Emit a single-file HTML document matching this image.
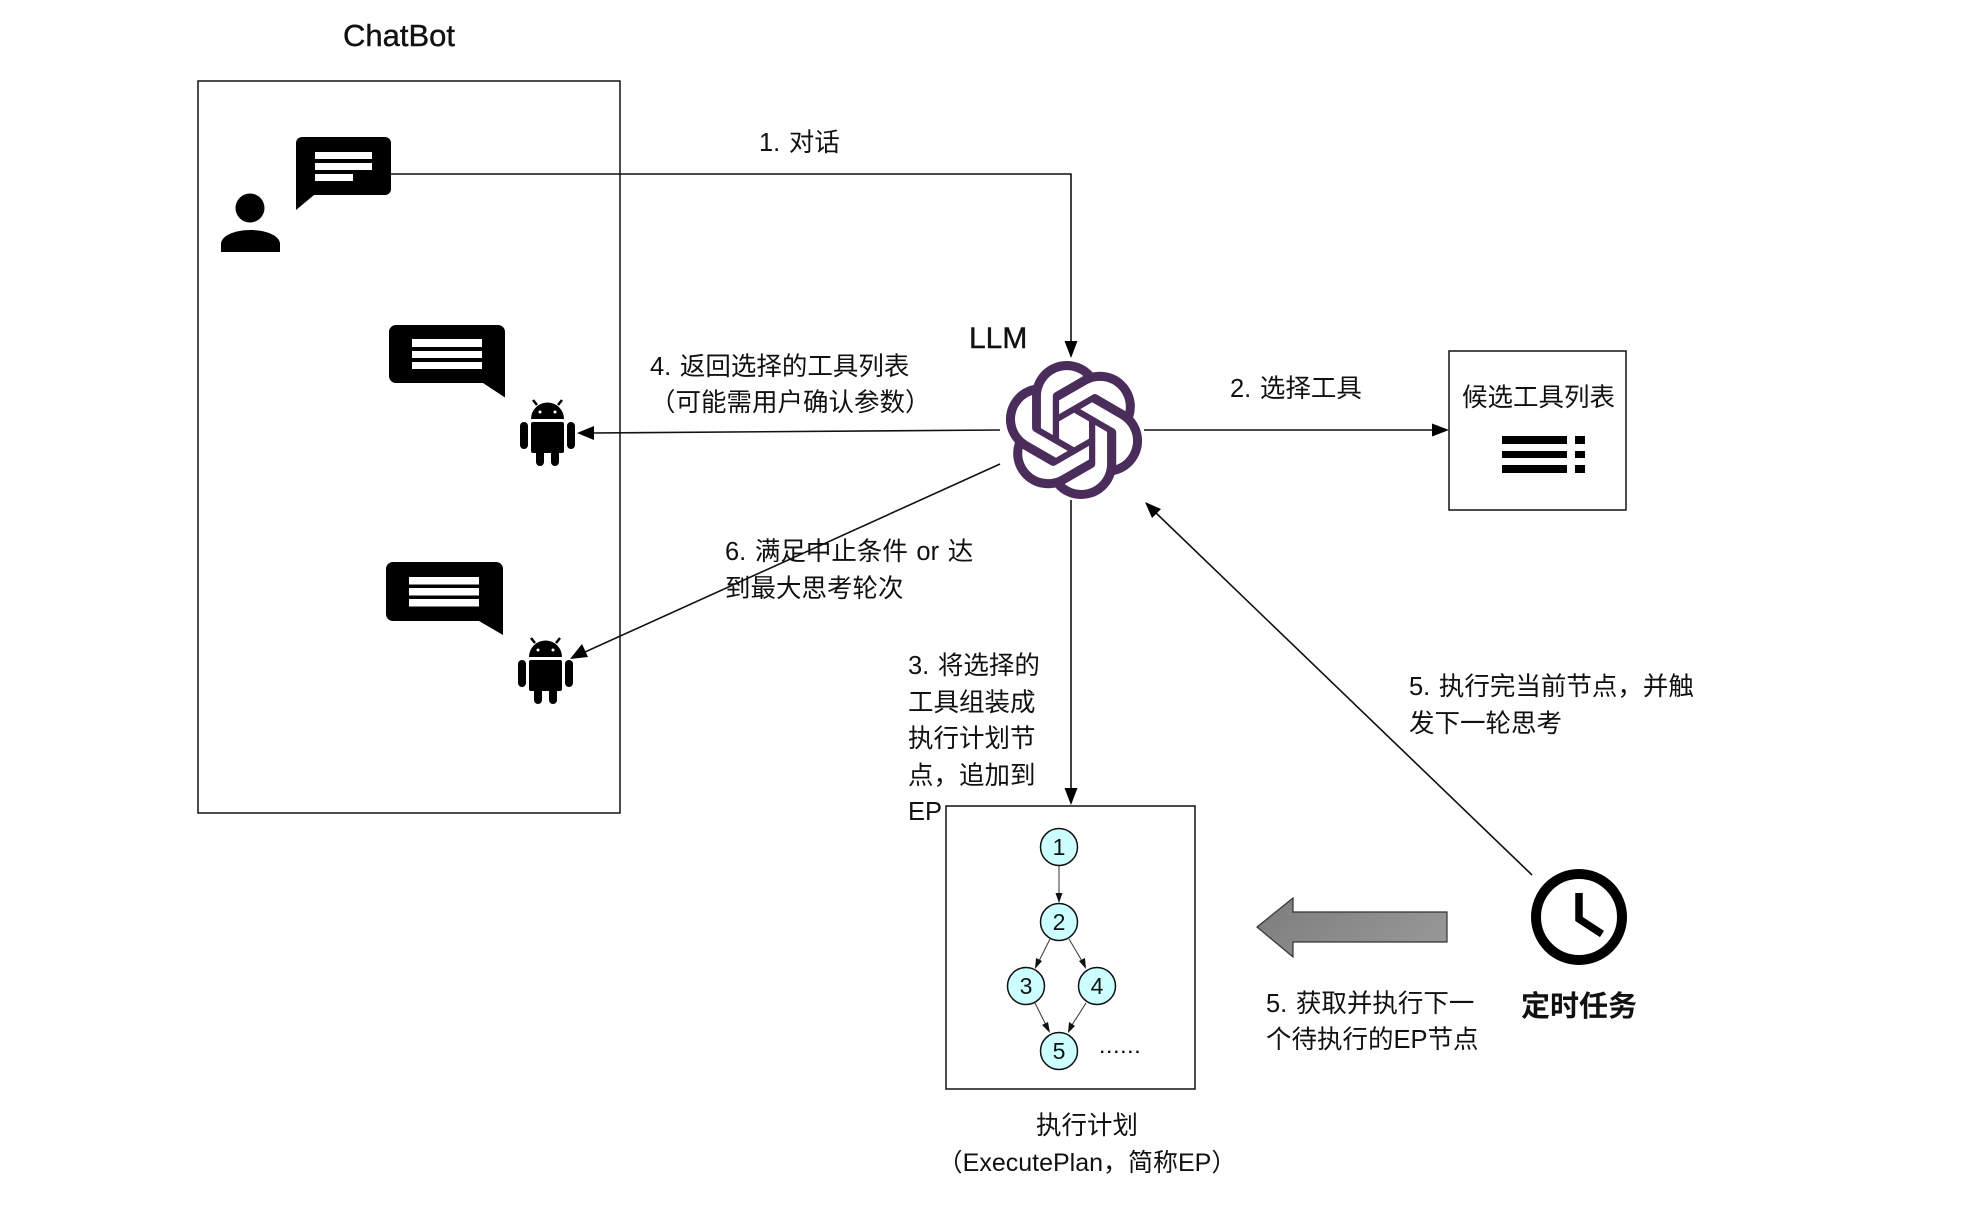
<!DOCTYPE html>
<html><head><meta charset="utf-8"><style>
html,body{margin:0;padding:0;background:#fff}
svg{display:block}
text{font-family:"Liberation Sans","Noto Sans CJK SC",sans-serif;font-size:25.500px;word-spacing:1.500px;fill:#111}
</style></head><body>
<svg width="1976" height="1206" viewBox="0 0 1976 1206" xmlns="http://www.w3.org/2000/svg">
<defs>
<linearGradient id="g" x1="0" y1="0" x2="1" y2="0.4"><stop offset="0" stop-color="#7c7c7c"/><stop offset="1" stop-color="#959595"/></linearGradient>
<g id="android" fill="#000">
<path d="M531 419a16.500 16.500 0 0 1 33 0z"/>
<path d="M537 405l-4-5M558 405l4-5" stroke="#000" stroke-width="2.500"/>
<rect x="531" y="422" width="33" height="31" rx="2"/>
<rect x="520" y="422" width="8" height="27" rx="4"/>
<rect x="567" y="422" width="8" height="27" rx="4"/>
<rect x="536" y="445" width="8" height="21" rx="4"/>
<rect x="551" y="445" width="8" height="21" rx="4"/>
<circle cx="540" cy="412" r="1.500" fill="#fff"/><circle cx="555" cy="412" r="1.500" fill="#fff"/>
</g>
</defs>
<rect width="1976" height="1206" fill="#fff"/>

<text x="343" y="46" style="font-size:31px;stroke:#111;stroke-width:.4px">ChatBot</text>
<rect x="198" y="81" width="422" height="732" fill="none" stroke="#111" stroke-width="1.500"/>

<!-- user -->
<circle cx="250" cy="208" r="14.500"/>
<path d="M221 252v-8c0-8 13-14 29.500-14s29.500 6 29.500 14v8z"/>
<path d="M302 137h83a6 6 0 0 1 6 6v46a6 6 0 0 1-6 6h-71l-18 15v-67a6 6 0 0 1 6-6z"/>
<g fill="#fff"><rect x="315" y="152" width="57" height="7"/><rect x="315" y="163" width="57" height="7"/><rect x="315" y="174" width="38" height="7"/></g>

<!-- bot bubbles -->
<path d="M396 325h102a7 7 0 0 1 7 7v65.500l-22-14.500h-87a7 7 0 0 1-7-7v-44a7 7 0 0 1 7-7z"/>
<g fill="#fff"><rect x="412" y="339" width="70" height="8"/><rect x="412" y="351" width="70" height="7"/><rect x="412" y="362" width="70" height="7"/></g>
<use href="#android"/>
<path d="M393 562h103a7 7 0 0 1 7 7v66l-24-14h-86a7 7 0 0 1-7-7v-45a7 7 0 0 1 7-7z"/>
<g fill="#fff"><rect x="409" y="577" width="70" height="7.500"/><rect x="409" y="588" width="70" height="7.500"/><rect x="409" y="599" width="70" height="7.500"/></g>
<use href="#android" transform="translate(-2 238)"/>

<!-- connectors -->
<g fill="none" stroke="#111" stroke-width="1.600">
<path d="M391 174H1071V345"/>
<path d="M1000 430L592 433"/>
<path d="M1144 430H1433"/>
<path d="M1000 464L585 652"/>
<path d="M1071 500V790"/>
<path d="M1532 875L1155 512"/>
</g>
<g fill="#000">
<path d="M1071 358l-6.500-17h13z"/>
<path d="M577 433l17-7v14z"/>
<path d="M1449 430l-17-6.500v13z"/>
<path d="M570 659l12-15 6 13z"/>
<path d="M1071 805l-6.500-17h13z"/>
<path d="M1145 502l16 7-9 9z"/>
</g>

<!-- logo -->
<g transform="translate(1005 361) scale(5.750)">
<path fill="#4a2d5a" d="M22.2819 9.8211a5.9847 5.9847 0 0 0-.5157-4.9108 6.0462 6.0462 0 0 0-6.5098-2.9A6.0651 6.0651 0 0 0 4.9807 4.1818a5.9847 5.9847 0 0 0-3.9977 2.9 6.0462 6.0462 0 0 0 .7427 7.0966 5.98 5.98 0 0 0 .511 4.9107 6.051 6.051 0 0 0 6.5146 2.9001A5.9847 5.9847 0 0 0 13.2599 24a6.0557 6.0557 0 0 0 5.7718-4.2058 5.9894 5.9894 0 0 0 3.9977-2.9001 6.0557 6.0557 0 0 0-.7475-7.0729zm-9.022 12.6081a4.4755 4.4755 0 0 1-2.8764-1.0408l.1419-.0804 4.7783-2.7582a.7948.7948 0 0 0 .3927-.6813v-6.7369l2.02 1.1686a.071.071 0 0 1 .038.052v5.5826a4.504 4.504 0 0 1-4.4945 4.4944zm-9.6607-4.1254a4.4708 4.4708 0 0 1-.5346-3.0137l.142.0852 4.783 2.7582a.7712.7712 0 0 0 .7806 0l5.8428-3.3685v2.3324a.0804.0804 0 0 1-.0332.0615L9.74 19.9502a4.4992 4.4992 0 0 1-6.1408-1.6464zM2.3408 7.8956a4.485 4.485 0 0 1 2.3655-1.9728V11.6a.7664.7664 0 0 0 .3879.6765l5.8144 3.3543-2.0201 1.1685a.0757.0757 0 0 1-.071 0l-4.8303-2.7865A4.504 4.504 0 0 1 2.3408 7.872zm16.5963 3.8558L13.1038 8.364 15.1192 7.2a.0757.0757 0 0 1 .071 0l4.8303 2.7913a4.4944 4.4944 0 0 1-.6765 8.1042v-5.6772a.79.79 0 0 0-.407-.667zm2.0107-3.0231l-.142-.0852-4.7735-2.7818a.7759.7759 0 0 0-.7854 0L9.409 9.2297V6.8974a.0662.0662 0 0 1 .0284-.0615l4.8303-2.7866a4.4992 4.4992 0 0 1 6.6802 4.66zM8.3065 12.863l-2.02-1.1638a.0804.0804 0 0 1-.038-.0567V6.0742a4.4992 4.4992 0 0 1 7.3757-3.4537l-.142.0805L8.704 5.459a.7948.7948 0 0 0-.3927.6813zm1.0976-2.3654l2.602-1.4998 2.6069 1.4998v2.9994l-2.5974 1.4997-2.6067-1.4997Z"/>
</g>
<text x="969" y="348" style="font-size:30px;stroke:#111;stroke-width:.4px">LLM</text>

<!-- tool list -->
<rect x="1449" y="351" width="177" height="159" fill="#fff" stroke="#111" stroke-width="1.500"/>
<text x="1462" y="406">候选工具列表</text>
<g fill="#000">
<rect x="1502" y="436" width="65" height="8"/><rect x="1502" y="451" width="65" height="7"/><rect x="1502" y="465" width="65" height="8"/>
<rect x="1575" y="436" width="10" height="8"/><rect x="1575" y="451" width="10" height="7"/><rect x="1575" y="465" width="10" height="8"/>
</g>

<!-- EP -->
<rect x="946" y="806" width="249" height="283" fill="#fff" stroke="#111" stroke-width="1.500"/>
<g fill="none" stroke="#333" stroke-width="1">
<path d="M1059 866V894"/><path d="M1050 939L1039 961"/><path d="M1069 939L1082 961"/><path d="M1035 1003L1046 1025"/><path d="M1086 1003L1072 1025"/>
</g>
<g fill="#111">
<path d="M1059 903l-3.500-10h7z"/>
<path d="M1035 969l1-11 6 3z"/>
<path d="M1086 969l-7-8 6-3z"/>
<path d="M1050 1033l-8-8 6-3z"/>
<path d="M1068 1033l1-11 6 4z"/>
</g>
<g fill="#ccffff" stroke="#111" stroke-width="1.500">
<circle cx="1059" cy="847" r="18.500"/><circle cx="1059" cy="922" r="18.500"/><circle cx="1026" cy="986" r="18.500"/><circle cx="1097" cy="986" r="18.500"/><circle cx="1059" cy="1051" r="18.500"/>
</g>
<g text-anchor="middle">
<text x="1059" y="855" style="font-size:23px">1</text><text x="1059" y="930" style="font-size:23px">2</text><text x="1026" y="994" style="font-size:23px">3</text><text x="1097" y="994" style="font-size:23px">4</text><text x="1059" y="1059" style="font-size:23px">5</text>
</g>
<text x="1100" y="1053" style="font-size:16px;font-weight:700;letter-spacing:2.600px;fill:#000">......</text>

<!-- big arrow -->
<path d="M1257 927L1293 898V912H1447V942H1293V957Z" fill="url(#g)" stroke="#333" stroke-width="1.200"/>

<!-- clock -->
<circle cx="1579" cy="917" r="43" fill="none" stroke="#000" stroke-width="10"/>
<path d="M1579 893V919L1602 934" fill="none" stroke="#000" stroke-width="7.500"/>

<!-- labels -->
<text x="759" y="151">1. 对话</text>
<text x="650" y="375">4. 返回选择的工具列表</text>
<text x="650" y="411">（可能需用户确认参数）</text>
<text x="1230" y="397">2. 选择工具</text>
<text x="725" y="560">6. 满足中止条件 or 达</text>
<text x="725" y="597">到最大思考轮次</text>
<text x="908" y="674">3. 将选择的</text>
<text x="908" y="711">工具组装成</text>
<text x="908" y="747">执行计划节</text>
<text x="908" y="784">点，追加到</text>
<text x="908" y="820">EP</text>
<text x="1409" y="695">5. 执行完当前节点，并触</text>
<text x="1409" y="732">发下一轮思考</text>
<text x="1266" y="1012">5. 获取并执行下一</text>
<text x="1266" y="1048">个待执行的EP节点</text>
<text x="1521" y="1016" style="font-size:29px;font-weight:700">定时任务</text>
<text x="1087" y="1134" text-anchor="middle">执行计划</text>
<text x="1087" y="1171" text-anchor="middle" style="font-size:25px">（ExecutePlan，简称EP）</text>
</svg>
</body></html>
